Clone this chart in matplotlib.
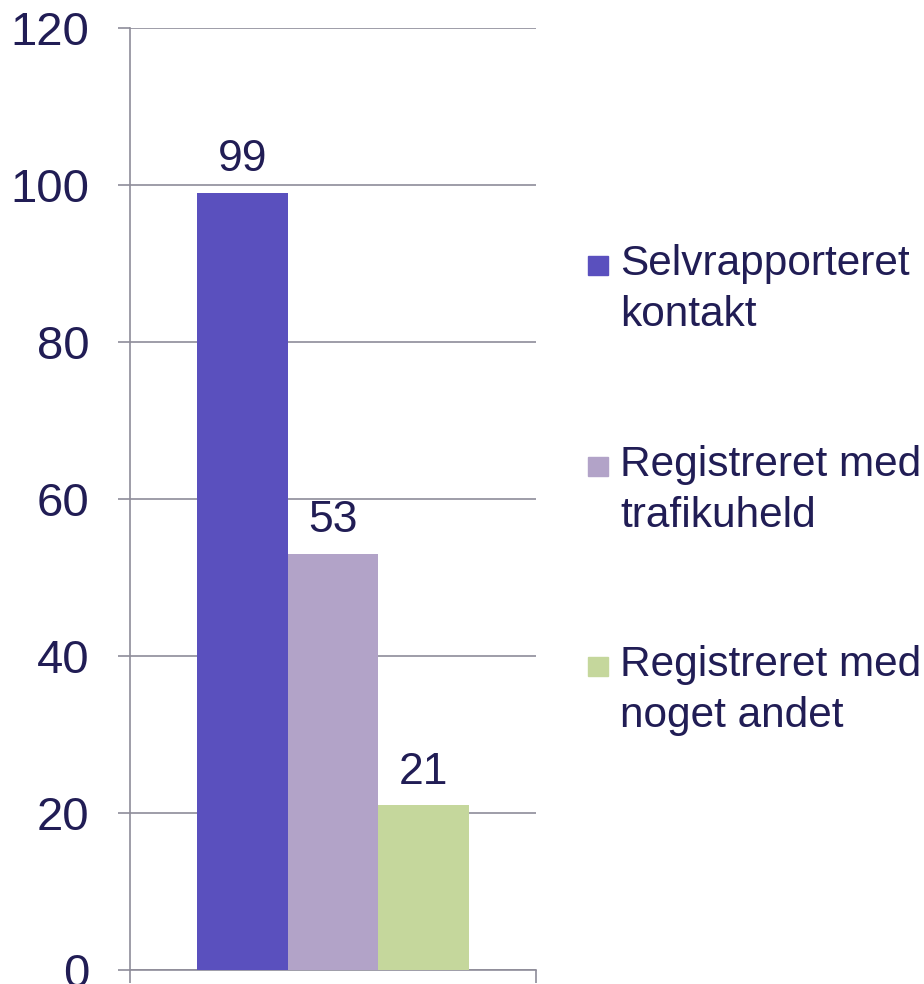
import matplotlib.pyplot as plt
from matplotlib.patches import Rectangle

plt.rcParams['font.family'] = ['Liberation Sans', 'DejaVu Sans']

# Data
labels = ["Selvrapporteret\nkontakt", "Registreret med\ntrafikuheld", "Registreret med\nnoget andet"]
values = [99, 53, 21]
colors = ["#5A50BE", "#B2A3C8", "#C5D79C"]
yticks = [0, 20, 40, 60, 80, 100, 120]

text_color = "#211D55"
grid_color = "#8E8C99"

fig = plt.figure(figsize=(9.24, 9.84), dpi=100)
ax = fig.add_axes([130 / 924, 14 / 984, 406 / 924, 942 / 984])

positions = [-1, 0, 1]
bars = ax.bar(positions, values, width=1.0, color=colors, zorder=3)

for x, v in zip(positions, values):
    ax.annotate(str(v), (x, v), xytext=(0, 9), textcoords="offset points",
                ha="center", va="bottom", fontsize=32, color=text_color)

ax.set_xlim(-2.243, 2.243)
ax.set_ylim(0, 120)
ax.set_yticks(yticks)
ax.set_yticklabels([str(t) for t in yticks])
ax.yaxis.grid(True, color=grid_color, linewidth=1.2, zorder=0)
ax.tick_params(axis="y", length=9, width=1.2, color=grid_color, pad=20,
               labelsize=34, labelcolor=text_color)
ax.set_xticks([-2.243, 2.243])
ax.set_xticklabels([])
ax.tick_params(axis="x", length=9, width=1.2, color=grid_color)

for side in ["top", "right"]:
    ax.spines[side].set_visible(False)
for side in ["left", "bottom"]:
    ax.spines[side].set_color(grid_color)
    ax.spines[side].set_linewidth(1.2)

# Legend drawn by hand to match layout
legend_tops = [244, 445, 645]
for lab, col, top in zip(labels, colors, legend_tops):
    fig.patches.append(Rectangle((588 / 924, 1 - (top + 31) / 984), 20 / 924, 19 / 984,
                                 transform=fig.transFigure, color=col, figure=fig))
    fig.text(620 / 924, 1 - top / 984, lab, ha="left", va="top",
             fontsize=30.5, color=text_color, linespacing=1.37)

plt.savefig("out.png", dpi=100)
